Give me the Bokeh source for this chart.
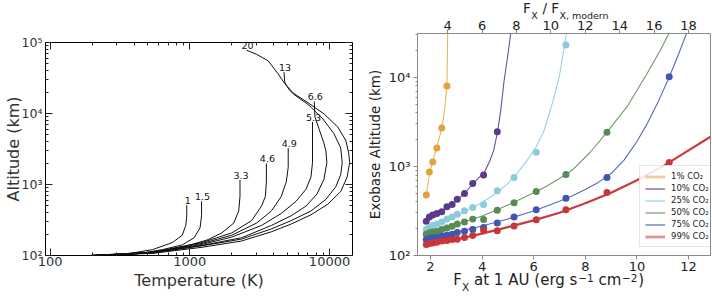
from bokeh.plotting import figure
from bokeh.layouts import row
from bokeh.models import (Range1d, LogAxis, LinearAxis, FixedTicker,
                          CustomJSTickFormatter, Legend, LegendItem)
from bokeh.core.properties import value
from bokeh.embed import file_html
from bokeh.resources import INLINE

# ---------------- left panel: thermospheric temperature profiles ----------------
# each profile labelled by the XUV flux relative to the present day
flux_labels = ["1", "1.5", "3.3", "4.6", "4.9", "5.3", "6.6", "13", "20"]

temp_1 = [196, 331, 541, 749, 882, 935, 950, 950]
alt_1 = [100, 103, 121, 152, 193, 265, 363, 512]

temp_1p5 = [196, 390, 637, 882, 1073, 1183, 1213, 1213]
alt_1p5 = [100, 103, 121, 141, 178, 245, 363, 581]

temp_3p3 = [196, 541, 882, 1326, 1694, 2061, 2237, 2285, 2285]
alt_3p3 = [100, 111.6, 130.6, 165, 208, 286, 424, 680, 1159]

temp_4p6 = [196, 541, 1222, 1995, 2767, 3258, 3474, 3531, 3531]
alt_4p6 = [100, 111.6, 152.5, 208, 310, 497, 680, 1089, 1977]

temp_4p9 = [196, 541, 1222, 1995, 3002, 3836, 4516, 4900, 5060, 5060]
alt_4p9 = [100, 110, 148, 193, 286, 424, 680, 1089, 1743, 3267]

temp_5p3 = [196, 541, 1222, 1995, 3258, 4516, 5765, 6790, 7362, 7551, 7551]
alt_5p3 = [100, 108.8, 143.5, 181.6, 265, 392, 581, 860, 1274, 2040, 7634]

temp_6p6 = [196, 541, 1222, 2350, 3836, 5312, 6790, 8128, 9114, 9570, 9419,
            9114, 8395, 7866, 7770]
alt_6p6 = [100, 109.5, 139, 178, 265, 363, 497, 735, 1178, 2040, 2972,
           3824, 6126, 8933, 14760]

temp_13 = [196, 541, 1222, 2350, 3836, 5312, 7362, 9419, 11090, 12020, 12330,
           12020, 10730, 8966, 7015, 5583, 5144, 4779, 4718]
alt_13 = [100, 108.2, 136.9, 170.5, 237.3, 309.7, 424, 618, 930, 1377, 2040,
          3267, 5236, 8390, 13440, 18400, 21530, 27670, 38230]

temp_20 = [196, 541, 1222, 2350, 3836, 5312, 7362, 9725, 12020, 13370, 13930,
           13710, 13050, 11450, 9156, 7015, 5492, 4764, 4277, 3634, 3001, 2549]
alt_20 = [100, 107.2, 130.6, 160.2, 215.9, 277.5, 374, 528.5, 795, 1274, 2040,
          2792, 4203, 6457, 9817, 14170, 19410, 26570, 36370, 55230, 68180, 77980]

profiles = [(temp_1, alt_1), (temp_1p5, alt_1p5), (temp_3p3, alt_3p3),
            (temp_4p6, alt_4p6), (temp_4p9, alt_4p9), (temp_5p3, alt_5p3),
            (temp_6p6, alt_6p6), (temp_13, alt_13), (temp_20, alt_20)]

# ---------------- right panel: exobase altitude vs X-ray flux ----------------
flux_1au = [1.84, 1.96, 2.09, 2.25, 2.44, 2.64, 2.84, 3.04, 3.32, 3.64, 4.06,
            4.59, 5.24, 6.10, 7.25, 8.84, 11.25]
co2_labels = ["1% CO\u2082", "10% CO\u2082", "25% CO\u2082",
              "50% CO\u2082", "75% CO\u2082", "99% CO\u2082"]

exo_1 = [477, 863, 1117, 1607, 2692, 7980]
exo_10 = [243, 271, 284, 296, 309, 352, 374, 429, 497, 644, 798, 2448]
exo_25 = [196, 206, 217, 225, 238, 256, 271, 291, 317, 346, 374, 532, 752,
          1437, 23070]
exo_50 = [173.5, 179.5, 184, 187.5, 196, 204, 213, 225, 238, 256, 254, 323,
          390, 521, 813, 2410]
exo_75 = [151, 155, 158, 159, 165, 169, 173.5, 181, 187.5, 196, 206, 232,
          270, 327, 438, 752, 10160]
exo_99 = [133, 136, 138.5, 141, 145, 147, 151, 152, 159, 168, 192, 190,
          214.5, 252.5, 327, 510, 1109]

# fitted trends for each composition
fit_x_1 = [1.84, 1.96, 2.09, 2.25, 2.44, 2.55, 2.64, 2.67]
fit_alt_1 = [477, 800, 1150, 1650, 2650, 4300, 8000, 31000]
fit_x_10 = [1.84, 2.2, 2.6, 3.0, 3.3, 3.6, 3.9, 4.1, 4.3, 4.45, 4.6, 4.72,
            4.85, 5.0, 5.11]
fit_alt_10 = [245, 285, 339, 412, 490, 617, 759, 870, 1148, 1514, 2427, 4169,
              8913, 17780, 30900]
fit_x_25 = [1.84, 2.2, 2.6, 3.0, 3.4, 3.8, 4.2, 4.6, 5.0, 5.4, 5.8, 6.1, 6.4,
            6.76, 7.0, 7.27]
fit_alt_25 = [195, 214, 240, 275, 320, 367, 427, 513, 646, 861, 1230, 1660,
              2512, 5560, 10470, 30900]
fit_x_50 = [1.84, 2.5, 3.0, 3.5, 4.0, 4.5, 5.0, 5.5, 6.0, 6.5, 7.0, 7.5, 8.2,
            8.84, 9.62, 10.4, 10.9, 11.24]
fit_alt_50 = [172, 198, 222, 248, 278, 318, 368, 430, 505, 600, 730, 910,
              1450, 2420, 4680, 11100, 20000, 31000]
fit_x_75 = [1.84, 3.0, 4.0, 5.0, 6.0, 7.0, 7.5, 8.0, 8.5, 9.0, 9.5, 10.0,
            10.4, 10.8, 11.25, 11.6, 11.92]
fit_alt_75 = [151, 183, 214, 257, 316, 407, 468, 550, 661, 832, 1175, 1905,
              3020, 5130, 10000, 17780, 30900]
fit_x_99 = [1.84, 2.5, 3.0, 4.0, 5.0, 6.0, 7.0, 8.0, 9.0, 10.0, 11.0, 11.25,
            12.0, 12.85]
fit_alt_99 = [132, 141, 151, 176, 208, 248, 302, 385, 507, 700, 1000, 1109,
              1514, 2150]

dot_colors = ["#E2A33E", "#5C3A8A", "#8CCBDC", "#588A53", "#3F58AE", "#C8363B"]
line_colors = ["#E9B466", "#6E4C9C", "#97D3E3", "#6E9B68", "#5469C4", "#C83A3E"]

FONT = "DejaVu Sans"

sup_code = """
const sup = {"2": "\u00b2", "3": "\u00b3", "4": "\u2074", "5": "\u2075"};
const e = String(Math.round(Math.log10(tick)));
return "10" + (sup[e] || e);
"""
blank_code = "return '';"

# ================= left figure =================
p1 = figure(width=360, height=296, x_axis_type="log", y_axis_type="log",
            x_range=Range1d(92.6, 14600), y_range=Range1d(100, 1e5),
            output_backend="svg", toolbar_location=None,
            min_border_left=42, min_border_right=8,
            min_border_top=36, min_border_bottom=40)
p1.grid.visible = False
p1.outline_line_color = "black"
p1.outline_line_width = 1
p1.outline_line_alpha = 1

t_minor = [m * d for d in (100, 1000) for m in range(2, 10)]
a_minor = [m * d for d in (100, 1000, 10000) for m in range(2, 10)]

bottom1 = p1.below[0]
left1 = p1.left[0]
bottom1.ticker = FixedTicker(ticks=[100, 1000, 10000], minor_ticks=t_minor)
left1.ticker = FixedTicker(ticks=[100, 1000, 10000, 100000], minor_ticks=a_minor)
bottom1.formatter = CustomJSTickFormatter(code="return String(Math.round(tick));")
left1.formatter = CustomJSTickFormatter(code=sup_code)

# mirrored tick marks on the top and right edges
p1.add_layout(LogAxis(ticker=FixedTicker(ticks=[100, 1000, 10000], minor_ticks=t_minor),
                      formatter=CustomJSTickFormatter(code=blank_code)), "above")
p1.add_layout(LogAxis(ticker=FixedTicker(ticks=[100, 1000, 10000, 100000],
                                         minor_ticks=a_minor),
                      formatter=CustomJSTickFormatter(code=blank_code)), "right")

for ax in p1.axis:
    ax.axis_line_color = None
    ax.major_tick_in = 7
    ax.major_tick_out = 0
    ax.minor_tick_in = 3
    ax.minor_tick_out = 0
    ax.major_tick_line_color = "#222222"
    ax.minor_tick_line_color = "#222222"
    ax.major_label_text_font = FONT
    ax.major_label_text_color = "#333333"
    ax.axis_label_text_font = FONT
    ax.axis_label_text_font_style = "normal"
    ax.axis_label_text_color = "#333333"
    ax.axis_label_text_font_size = "16px"
bottom1.major_label_text_font_size = "13px"
bottom1.major_label_standoff = 1
bottom1.axis_label = "Temperature (K)"
bottom1.axis_label_standoff = 2
left1.major_label_text_font_size = "12.5px"
left1.major_label_standoff = 3
left1.axis_label = "Altitude (km)"
left1.axis_label_standoff = -4

for temps, alts in profiles:
    p1.line(temps, alts, line_color="#111111", line_width=1)

top_t, top_a = [], []
for temps, alts in profiles:
    i = alts.index(max(alts))
    top_t.append(temps[i])
    top_a.append(alts[i])
p1.text(x=top_t, y=top_a, text=flux_labels, text_font=value(FONT),
        text_font_size="9.5px", text_align="center", text_baseline="bottom",
        x_offset=1, y_offset=-1, text_color="#111111")

# ================= right figure =================
X0, X1 = 1.5, 12.85
RATIO = 1.5                 # F_X / F_X,modern per unit of F_X at 1 AU
LIFT = 9                    # canvas rows hidden above the page top
p2 = figure(width=352, height=296 + LIFT, y_axis_type="log",
            x_range=Range1d(X0, X1), y_range=Range1d(100, 31000),
            output_backend="svg", toolbar_location=None,
            min_border_left=57, min_border_right=2,
            min_border_top=33 + LIFT, min_border_bottom=41,
            margin=(-LIFT, 0, 0, 0))
p2.grid.visible = False
p2.outline_line_color = "#8a8a8a"
p2.outline_line_width = 1
p2.extra_x_ranges = {"ratio": Range1d(X0 * RATIO, X1 * RATIO)}

bottom2 = p2.below[0]
left2 = p2.left[0]
bottom2.ticker = FixedTicker(ticks=[2, 4, 6, 8, 10, 12], minor_ticks=[])
left2.ticker = FixedTicker(ticks=[100, 1000, 10000],
                           minor_ticks=[m * d for d in (100, 1000)
                                        for m in range(2, 10)] + [20000, 30000])
left2.formatter = CustomJSTickFormatter(code=sup_code)
top2 = LinearAxis(x_range_name="ratio",
                  ticker=FixedTicker(ticks=[4, 6, 8, 10, 12, 14, 16, 18],
                                     minor_ticks=[]))
p2.add_layout(top2, "above")

for ax in (bottom2, left2, top2):
    ax.axis_line_color = "#8a8a8a"
    ax.major_tick_out = 4
    ax.major_tick_in = 0
    ax.minor_tick_out = 2
    ax.minor_tick_in = 0
    ax.major_tick_line_color = "#8a8a8a"
    ax.minor_tick_line_color = "#8a8a8a"
    ax.major_label_text_font = FONT
    ax.major_label_text_font_size = "13px"
    ax.major_label_text_color = "#222222"
    ax.major_label_standoff = 3
bottom2.major_label_standoff = 2
top2.major_label_standoff = 0
left2.axis_label = "Exobase Altitude (km)"
left2.axis_label_text_font = FONT
left2.axis_label_text_font_style = "normal"
left2.axis_label_text_font_size = "13.5px"
left2.axis_label_text_color = "#222222"
left2.axis_label_standoff = 3

series = [(flux_1au[:len(exo_1)], exo_1, fit_x_1, fit_alt_1),
          (flux_1au[:len(exo_10)], exo_10, fit_x_10, fit_alt_10),
          (flux_1au[:len(exo_25)], exo_25, fit_x_25, fit_alt_25),
          (flux_1au[:len(exo_50)], exo_50, fit_x_50, fit_alt_50),
          (flux_1au[:len(exo_75)], exo_75, fit_x_75, fit_alt_75),
          (flux_1au[:len(exo_99)], exo_99, fit_x_99, fit_alt_99)]

for k, (xs, ys, fx, fy) in enumerate(series):
    p2.line(fx, fy, line_color=line_colors[k], line_width=2.2 if k == 5 else 1.1)
for k, (xs, ys, fx, fy) in enumerate(series):
    p2.scatter(xs, ys, size=7, fill_color=dot_colors[k], line_color=None)

legend_widths = [2.8, 1.2, 1.2, 1.2, 1.2, 2.8]
legend_alphas = [0.55, 1, 1, 1, 1, 0.55]
items = []
for k, lab in enumerate(co2_labels):
    r = p2.line(x=[1.0, 1.1], y=[10, 10],
                line_color=dot_colors[k] if k in (0, 5) else line_colors[k],
                line_width=legend_widths[k], line_alpha=legend_alphas[k])
    items.append(LegendItem(label=lab, renderers=[r]))
legend = Legend(items=items, location=(222, 8), label_text_font=FONT,
                label_text_font_size="8.5px", label_text_color="#222222",
                glyph_width=20, glyph_height=9, label_height=9,
                spacing=2, padding=5, margin=0, label_standoff=6,
                border_line_color="#cccccc", background_fill_alpha=0.85)
p2.add_layout(legend)

# Axis titles with sub- and superscripts: every run of text is a tick label
# of a bare axis stacked outside the tick axis, centred on its own spot.
FRAME_LEFT, FRAME_W = 417, 293


def unit_at(px, lo, hi):
    return lo + (px - FRAME_LEFT) * (hi - lo) / FRAME_W


def text_axis(runs, size, standoff, side, range_name="default"):
    lo, hi = (X0, X1) if range_name == "default" else (X0 * RATIO, X1 * RATIO)
    ax = LinearAxis(x_range_name=range_name,
                    ticker=FixedTicker(ticks=[unit_at(c, lo, hi) for c, _ in runs],
                                       minor_ticks=[]),
                    formatter=CustomJSTickFormatter(args=dict(labels=[t for _, t in runs]),
                                                    code="return labels[index];"),
                    axis_line_color=None, major_tick_line_color=None,
                    minor_tick_line_color=None, major_tick_in=0, major_tick_out=0,
                    minor_tick_in=0, minor_tick_out=0,
                    major_label_standoff=standoff,
                    major_label_text_font=FONT, major_label_text_font_size=size,
                    major_label_text_color="#222222")
    p2.add_layout(ax, side)


# bottom title: F_X at 1 AU (erg s^-1 cm^-2)
text_axis([(457.0, "F"), (501.2, "at 1 AU"), (555.4, "(erg s"),
           (609.4, "cm"), (640.7, ")")], "15px", -3, "below")
text_axis([(465.1, "X")], "10.5px", -11, "below")
text_axis([(585.4, "\u22121"), (629.3, "\u22122")], "10.5px", -22, "below")

# top title: F_X / F_X, modern
text_axis([(534.0, "X"), (583.5, "X, modern")], "9.5px", -3, "above", "ratio")
text_axis([(526.5, "F"), (550.3, "/ F")], "13.5px", -9, "above", "ratio")

layout = row(p1, p2, spacing=0)
open("out.html", "w").write(file_html(layout, INLINE))
